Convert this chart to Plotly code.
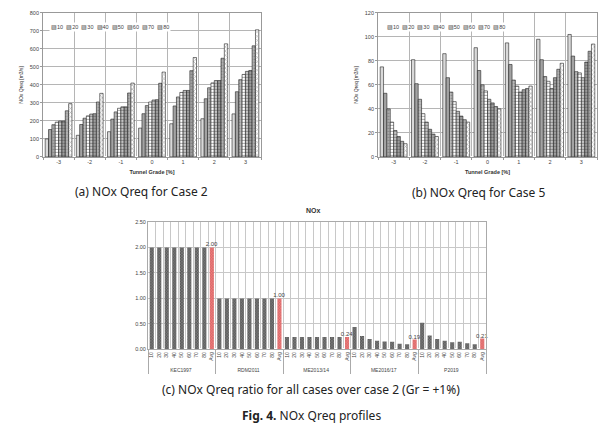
import plotly.graph_objects as go

# ---------------- data ----------------
grades = ["-3", "-2", "-1", "0", "1", "2", "3"]
speeds = ["10", "20", "30", "40", "50", "60", "70", "80"]

# (a) NOx Qreq, Case 2  [m3/s]  -- one list per speed, values per grade
case2 = {
    "10": [100, 120, 140, 160, 184, 212, 239],
    "20": [152, 180, 210, 240, 283, 323, 362],
    "30": [179, 215, 250, 285, 333, 384, 429],
    "40": [193, 228, 270, 305, 358, 411, 458],
    "50": [199, 238, 278, 316, 369, 424, 475],
    "60": [199, 240, 278, 318, 369, 424, 480],
    "70": [256, 305, 355, 409, 479, 548, 617],
    "80": [296, 353, 410, 471, 552, 628, 706],
}

# (b) NOx Qreq, Case 5  [m3/s]
case5 = {
    "10": [75, 81, 86, 91, 95, 98, 102],
    "20": [53, 61, 66, 72, 77, 81, 84],
    "30": [40, 48, 54, 60, 64, 67, 71],
    "40": [29, 36, 46, 55, 59, 63, 70],
    "50": [22, 29, 38, 48, 54, 57, 66],
    "60": [17, 23, 34, 45, 56, 66, 79],
    "70": [13, 19, 31, 42, 57, 73, 88],
    "80": [11, 17, 29, 40, 59, 78, 94],
}

# (c) NOx Qreq ratio over case 2 (Gr = +1%)
groups = ["KEC1997", "RDM2011", "ME2013/14", "ME2016/17", "P2019"]
cat_labels = ["10", "20", "30", "40", "50", "60", "70", "80", "Avg"]
ratios = {
    "KEC1997":   [2.00, 2.00, 2.00, 2.00, 2.00, 2.00, 2.00, 2.00, 2.00],
    "RDM2011":   [1.00, 1.00, 1.00, 1.00, 1.00, 1.00, 1.00, 1.00, 1.00],
    "ME2013/14": [0.24, 0.24, 0.24, 0.24, 0.24, 0.24, 0.24, 0.24, 0.24],
    "ME2016/17": [0.44, 0.26, 0.20, 0.17, 0.155, 0.15, 0.11, 0.10, 0.19],
    "P2019":     [0.52, 0.27, 0.20, 0.17, 0.14, 0.15, 0.12, 0.10, 0.21],
}

# ---------------- styles ----------------
W, H = 609, 447
FONT = "Liberation Sans, Arial, sans-serif"
fills = ["#d9d9d9", "#a3a3a3", "#bdbdbd", "#ffffff", "#c4c4c4", "#9c9c9c", "#b3b3b3", "#ffffff"]
shapes = ["", "", ".", "-", "-", "-", ".", "x"]


def px_x(x):
    return x / W


def px_y(y):
    return 1 - y / H


def text_at(cx, cy, text, font, **kw):
    fig.add_annotation(x=px_x(cx), y=px_y(cy), xref="paper", yref="paper",
                       xanchor="center", yanchor="middle", text=text,
                       showarrow=False, font=font, **kw)


fig = go.Figure()

for i, s in enumerate(speeds):
    for data, xa, ya in ((case2, "x", "y"), (case5, "x2", "y2")):
        fig.add_trace(go.Bar(
            x=grades, y=data[s], name=s, xaxis=xa, yaxis=ya, showlegend=False,
            marker=dict(color=fills[i], line=dict(color="#222", width=0.6),
                        pattern=dict(shape=shapes[i], size=3, solidity=0.35,
                                     fgcolor="#555", bgcolor=fills[i])),
        ))

# (c)
xs_group, xs_lab, ys, cols, txt = [], [], [], [], []
for g in groups:
    for lab, v in zip(cat_labels, ratios[g]):
        xs_group.append(g)
        xs_lab.append(lab)
        ys.append(v)
        avg = lab == "Avg"
        cols.append("#f27878" if avg else "#5c5c5c")
        txt.append(f"{v:.2f}" if avg else "")

fig.add_trace(go.Bar(
    x=[xs_group, xs_lab], y=ys, xaxis="x3", yaxis="y3", showlegend=False,
    width=0.55, text=txt, textposition="outside", cliponaxis=False,
    constraintext="none",
    textfont=dict(size=6, color="#444", family=FONT),
    marker=dict(color=cols, line=dict(width=0),
                pattern=dict(shape="x", size=2, solidity=0.25, fgcolor="#333")),
))

# ---------------- axes ----------------
tickf = dict(size=5.5, color="#444", family=FONT)
gridc = "#b5b5b5"

ax_common = dict(showline=True, linecolor="#999", linewidth=0.8, mirror=True,
                 tickfont=tickf, ticks="outside", ticklen=2, tickcolor="#999")

fig.update_layout(
    width=W, height=H, margin=dict(l=0, r=0, t=0, b=0),
    paper_bgcolor="white", plot_bgcolor="white",
    barmode="group", bargap=0.14, bargroupgap=0,
    font=dict(family=FONT),
    xaxis=dict(domain=[px_x(43), px_x(261)], anchor="y", type="category",
               tickson="boundaries", showgrid=True, gridcolor=gridc, gridwidth=0.8,
               title=dict(text="<b>Tunnel Grade [%]</b>", font=dict(size=5.5, color="#333"), standoff=5),
               **ax_common),
    yaxis=dict(domain=[px_y(156), px_y(10)], anchor="x", range=[0, 800], dtick=100,
               showgrid=True, gridcolor=gridc, gridwidth=0.8,
               title=dict(text="NOx Qreq [m3/s]", font=dict(size=5, color="#333"), standoff=6),
               **ax_common),
    xaxis2=dict(domain=[px_x(378), px_x(597)], anchor="y2", type="category",
                tickson="boundaries", showgrid=True, gridcolor=gridc, gridwidth=0.8,
                title=dict(text="<b>Tunnel Grade [%]</b>", font=dict(size=5.5, color="#333"), standoff=5),
                **ax_common),
    yaxis2=dict(domain=[px_y(156), px_y(10)], anchor="x2", range=[0, 120], dtick=20,
                showgrid=True, gridcolor=gridc, gridwidth=0.8,
                title=dict(text="NOx Qreq [m3/s]", font=dict(size=5, color="#333"), standoff=6),
                **ax_common),
    xaxis3=dict(domain=[px_x(148), px_x(486)], anchor="y3", type="multicategory",
                tickson="boundaries", showgrid=True, gridcolor="#c8c8c8", gridwidth=0.8,
                showline=True, linecolor="#aaa", mirror=True, tickangle=-90,
                showdividers=True, dividercolor="#aaa", dividerwidth=0.8,
                tickfont=dict(size=5, color="#444", family=FONT), ticks=""),
    yaxis3=dict(domain=[px_y(351), px_y(222)], anchor="x3", range=[0, 2.5], dtick=0.5,
                tickformat=".2f", showgrid=True, gridcolor="#c8c8c8", gridwidth=0.8,
                showline=True, linecolor="#aaa", mirror=True, ticks="",
                tickfont=dict(size=5.5, color="#444", family=FONT)),
)

# legends (compact, as in original)
leg_text = "  ".join("▨" + s for s in speeds)
for cx in (110, 446):
    text_at(cx, 24, leg_text, dict(size=5.5, color="#444", family=FONT),
            bgcolor="white", borderpad=1)

# (c) title
text_at(313, 210, "<b>NOx</b>", dict(size=7, color="#333", family=FONT))

# captions
cap_font = dict(size=12, color="#222", family="Noto Sans, sans-serif")
text_at(141, 191, "(a) NOx Qreq for Case 2", cap_font)
text_at(478, 192, "(b) NOx Qreq for Case 5", cap_font)
text_at(311, 392, "(c) NOx Qreq ratio for all cases over case 2 (Gr = +1%)", cap_font)
text_at(311, 418, "<b>Fig. 4.</b> NOx Qreq profiles", cap_font)

fig.write_html("out.html")
